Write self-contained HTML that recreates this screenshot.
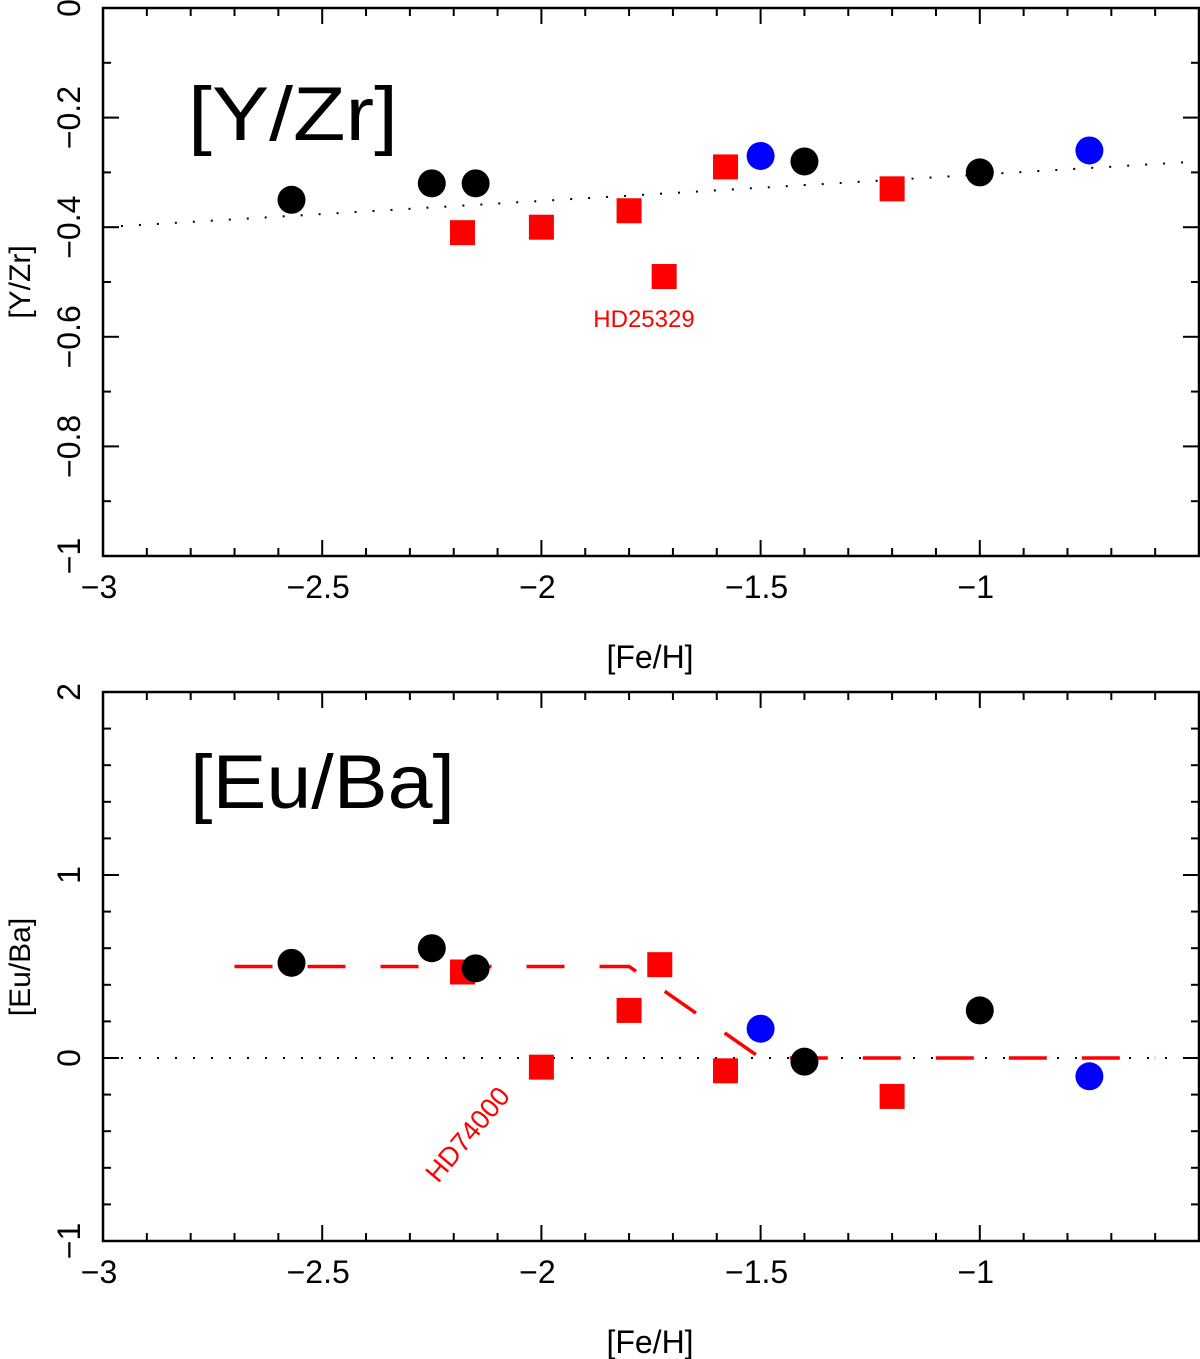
<!DOCTYPE html>
<html><head><meta charset="utf-8"><style>
body{margin:0;background:#fff}
svg{display:block;font-family:"Liberation Sans","DejaVu Sans",sans-serif}
</style></head><body>
<svg id="chart" width="1200" height="1359" viewBox="0 0 1200 1359"></svg>
<script>
// Shared x axis
const xTicksMajor = [-3, -2.5, -2, -1.5, -1];
const xTickLabels = ["\u22123", "\u22122.5", "\u22122", "\u22121.5", "\u22121"];
// Top panel [Y/Zr]
const yzBlackFe = [-2.57, -2.25, -2.15, -1.4, -1.0];
const yzBlackVal = [-0.35, -0.32, -0.32, -0.28, -0.30];
const yzBlueFe = [-1.5, -0.75];
const yzBlueVal = [-0.27, -0.26];
const yzRedFe = [-2.18, -2.0, -1.8, -1.72, -1.58, -1.2];
const yzRedVal = [-0.41, -0.40, -0.37, -0.49, -0.29, -0.33];
const yzFitFe = [-3.0, -0.5];
const yzFitVal = [-0.40, -0.28];
const yzTicks = [0, -0.2, -0.4, -0.6, -0.8, -1];
const yzTickLabels = ["0", "\u22120.2", "\u22120.4", "\u22120.6", "\u22120.8", "\u22121"];
// Bottom panel [Eu/Ba]
const ebBlackFe = [-2.57, -2.25, -2.15, -1.4, -1.0];
const ebBlackVal = [0.52, 0.60, 0.49, -0.02, 0.26];
const ebBlueFe = [-1.5, -0.75];
const ebBlueVal = [0.16, -0.10];
const ebRedFe = [-2.18, -2.0, -1.8, -1.73, -1.58, -1.2];
const ebRedVal = [0.47, -0.05, 0.26, 0.51, -0.07, -0.21];
const ebModelFe = [-2.7, -1.8, -1.5, -0.6];
const ebModelVal = [0.5, 0.5, 0.0, 0.0];
const ebTicks = [2, 1, 0, -1];
const ebTickLabels = ["2", "1", "0", "\u22121"];

const NS = "http://www.w3.org/2000/svg";
const svg = document.getElementById('chart');
function mk(tag, attrs, parent){const e=document.createElementNS(NS,tag);for(const k in attrs)e.setAttribute(k,attrs[k]);(parent||svg).appendChild(e);return e;}

const X0=103, X1=1199, XMIN=-3, XMAX=-0.5;
function sx(v){return X0+(v-XMIN)/(XMAX-XMIN)*(X1-X0);}

function panel(name, top, bottom, ymin, ymax, yTicks, yLabels, minorStep, sy){
  const g=mk('g',{});
  
  
  const fr=mk('rect',{x:X0,y:top,width:X1-X0,height:bottom-top,fill:'none',stroke:'#000','stroke-width':2.5},g);
  
  
  for(let i=0;i<=25;i++){
    const v=-3+i*0.1; const x=sx(v); const major=(i%5===0); const L=major?16:8;
    mk('line',{x1:x,y1:bottom,x2:x,y2:bottom-L,stroke:'#000','stroke-width':2},g);
    mk('line',{x1:x,y1:top,x2:x,y2:top+L,stroke:'#000','stroke-width':2},g);
  }
  xTicksMajor.forEach((v,i)=>{
    const t=mk('text',{x:sx(v)-4,y:bottom+42,'font-size':32,'text-anchor':'middle',fill:'#000'},g);
    t.textContent=xTickLabels[i];
    
    
  });
  const n=Math.round((ymax-ymin)/minorStep);
  for(let i=0;i<=n;i++){
    const v=ymin+i*minorStep; const y=sy(v);
    const major=yTicks.some(t=>Math.abs(t-v)<1e-6); const L=major?16:8;
    mk('line',{x1:X0,y1:y,x2:X0+L,y2:y,stroke:'#000','stroke-width':2},g);
    mk('line',{x1:X1,y1:y,x2:X1-L,y2:y,stroke:'#000','stroke-width':2},g);
  }
  yTicks.forEach((v,i)=>{
    const y=sy(v);
    const t=mk('text',{x:0,y:0,'font-size':32,'text-anchor':'middle',fill:'#000',transform:`translate(80,${y}) rotate(-90)`},g);
    t.textContent=yLabels[i];
    
    
  });
  return g;
}

function circles(g,fe,val,sy,color,name){
  fe.forEach((f,i)=>{const c=mk('circle',{cx:sx(f),cy:sy(val[i]),r:14,fill:color},g);
    
    });
}
function squares(g,fe,val,sy,name){
  fe.forEach((f,i)=>{const r=mk('rect',{x:sx(f)-12.5,y:sy(val[i])-12.5,width:25,height:25,fill:'#ff0000'},g);
    
    });
}

// TOP
const syT=v=>8+(0-v)*548;
const gT=panel('yzr',8,556,-1,0,yzTicks,yzTickLabels,0.1,syT);
const fit=mk('line',{x1:sx(yzFitFe[0]),y1:syT(yzFitVal[0]),x2:sx(yzFitFe[1]),y2:syT(yzFitVal[1]),stroke:'#000','stroke-width':2,'stroke-dasharray':'2 16'},gT);


squares(gT,yzRedFe,yzRedVal,syT,'yzr-red-square');
circles(gT,yzBlackFe,yzBlackVal,syT,'#000','yzr-black-circle');
circles(gT,yzBlueFe,yzBlueVal,syT,'#0000ff','yzr-blue-circle');
let t=mk('text',{x:644,y:327,'font-size':24,'text-anchor':'middle',fill:'#ff0000'},gT);t.textContent='HD25329';


t=mk('text',{x:188,y:140,'font-size':76,fill:'#000','textLength':210,'lengthAdjust':'spacingAndGlyphs'},gT);t.textContent='[Y/Zr]';


t=mk('text',{x:0,y:0,'font-size':30,'text-anchor':'middle',fill:'#000',transform:'translate(30,282) rotate(-90)'},gT);t.textContent='[Y/Zr]';


t=mk('text',{x:650,y:668,'font-size':32,'text-anchor':'middle',fill:'#000'},gT);t.textContent='[Fe/H]';



// BOTTOM
const syB=v=>1058-v*183;
const gB=panel('euba',692,1241,-1,2,ebTicks,ebTickLabels,0.2,syB);
const zl=mk('line',{x1:X0,y1:syB(0),x2:X1,y2:syB(0),stroke:'#000','stroke-width':2,'stroke-dasharray':'2 16'},gB);


const pts=ebModelFe.map((f,i)=>sx(f)+','+syB(ebModelVal[i])).join(' ');
const ml=mk('polyline',{points:pts,fill:'none',stroke:'#ff0000','stroke-width':3.5,'stroke-dasharray':'38 35','stroke-dashoffset':'0'},gB);


squares(gB,ebRedFe,ebRedVal,syB,'euba-red-square');
circles(gB,ebBlackFe,ebBlackVal,syB,'#000','euba-black-circle');
circles(gB,ebBlueFe,ebBlueVal,syB,'#0000ff','euba-blue-circle');
t=mk('text',{x:0,y:0,'font-size':27,fill:'#ff0000',transform:'translate(438,1184) rotate(-50)'},gB);t.textContent='HD74000';


t=mk('text',{x:190,y:808,'font-size':76,fill:'#000','textLength':265,'lengthAdjust':'spacingAndGlyphs'},gB);t.textContent='[Eu/Ba]';


t=mk('text',{x:0,y:0,'font-size':30,'text-anchor':'middle',fill:'#000',transform:'translate(30,967) rotate(-90)'},gB);t.textContent='[Eu/Ba]';


t=mk('text',{x:650,y:1353,'font-size':32,'text-anchor':'middle',fill:'#000'},gB);t.textContent='[Fe/H]';


</script>
</body></html>
